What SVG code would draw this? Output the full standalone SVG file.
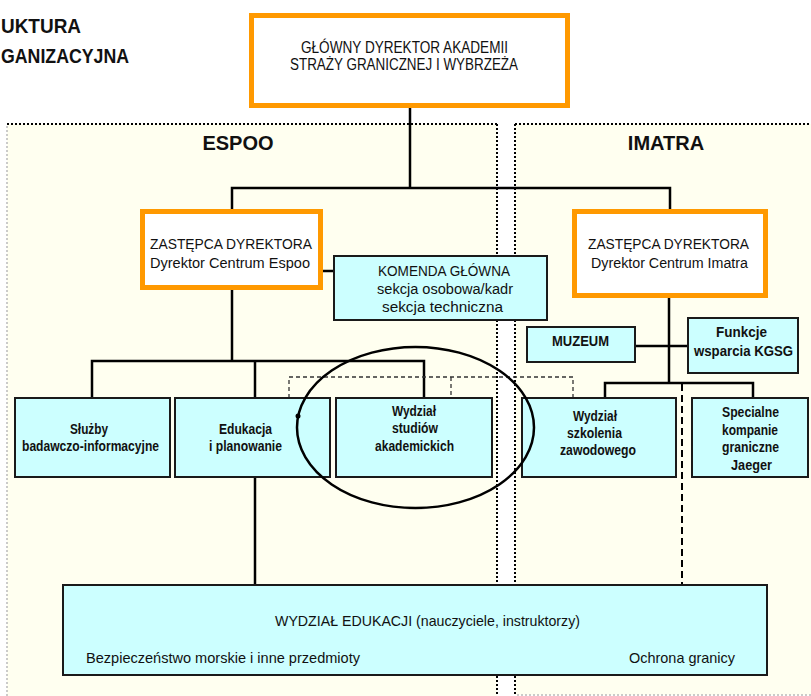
<svg xmlns="http://www.w3.org/2000/svg" width="811" height="696" viewBox="0 0 811 696">
<defs>
<style>
text{font-family:"Liberation Sans",Arial,sans-serif;fill:#111}
.c{text-anchor:middle}
.b{font-weight:bold}
.orange{fill:#fff;stroke:#FF9900;stroke-width:5}
.cyan{fill:#CCFFFF;stroke:#1a1a1a;stroke-width:2}
.ln{stroke:#000;stroke-width:2.5;fill:none}
.dash{stroke:#333;stroke-width:1.3;stroke-dasharray:4 3;fill:none}
.dash2{stroke:#000;stroke-width:2;stroke-dasharray:7 4;fill:none}
.dot{stroke:#000;stroke-width:2;stroke-dasharray:2 2;fill:none}
.dotg{stroke:#bbb;stroke-width:1.5;stroke-dasharray:2 2;fill:none}
</style>
</defs>
<rect x="0" y="0" width="811" height="696" fill="#fff"/>
<g id="panels">
<rect x="7" y="124" width="490" height="580" fill="#FFFFF0"/>
<rect x="515" y="124" width="300" height="571" fill="#FFFFF0"/>
<line class="dotg" x1="7" y1="126" x2="7" y2="696"/>
<line class="dot" x1="7" y1="124" x2="497" y2="124"/>
<line class="dot" x1="497" y1="124" x2="497" y2="696"/>
<line class="dot" x1="515" y1="124" x2="811" y2="124"/>
<line class="dot" x1="515" y1="124" x2="515" y2="696"/>
<line class="dotg" x1="517" y1="695" x2="811" y2="695"/>
<text class="c b" x="238" y="150" font-size="20">ESPOO</text>
<text class="c b" x="666" y="150" font-size="20">IMATRA</text>
</g>
<g id="title">
<text class="b" x="1" y="33" font-size="21" textLength="80" lengthAdjust="spacingAndGlyphs">UKTURA</text>
<text class="b" x="1" y="63" font-size="21" textLength="128" lengthAdjust="spacingAndGlyphs">GANIZACYJNA</text>
</g>
<g id="connectors">
<polyline class="ln" points="410,107 410,188"/>
<polyline class="ln" points="232,209 232,188 670,188 670,209"/>
<line class="ln" x1="232" y1="290" x2="232" y2="361"/>
<line class="ln" x1="323" y1="271" x2="334" y2="271"/>
<polyline class="ln" points="92,398 92,361 424,361 424,398"/>
<line class="ln" x1="255" y1="361" x2="255" y2="398"/>
<line class="ln" x1="255" y1="477" x2="255" y2="585"/>
<line class="ln" x1="669" y1="298" x2="669" y2="383"/>
<line class="ln" x1="635" y1="346" x2="688" y2="346"/>
<polyline class="ln" points="605,398 605,383 753,383 753,398"/>
<polyline class="dash" points="289,398 289,377 573,377 573,398"/>
<line class="dash" x1="451" y1="377" x2="451" y2="398"/>
<line class="dash2" x1="682" y1="384" x2="682" y2="585"/>
</g>
<g id="glowny">
<rect class="orange" x="251.5" y="15.5" width="316" height="90"/>
<text class="c" x="404.5" y="53" font-size="16" textLength="207" lengthAdjust="spacingAndGlyphs">GŁÓWNY DYREKTOR AKADEMII</text>
<text class="c" x="404" y="70" font-size="16" textLength="228" lengthAdjust="spacingAndGlyphs">STRAŻY GRANICZNEJ I WYBRZEŻA</text>
</g>
<g id="zastepca-espoo">
<rect class="orange" x="142.5" y="211.5" width="178" height="76"/>
<text class="c" x="231" y="249" font-size="14" textLength="162" lengthAdjust="spacingAndGlyphs">ZASTĘPCA DYREKTORA</text>
<text class="c" x="230" y="267.5" font-size="14" textLength="160" lengthAdjust="spacingAndGlyphs">Dyrektor Centrum Espoo</text>
</g>
<g id="zastepca-imatra">
<rect class="orange" x="574.5" y="211.5" width="191" height="84"/>
<text class="c" x="668.5" y="249" font-size="14" textLength="161" lengthAdjust="spacingAndGlyphs">ZASTĘPCA DYREKTORA</text>
<text class="c" x="669.5" y="268" font-size="14" textLength="157" lengthAdjust="spacingAndGlyphs">Dyrektor Centrum Imatra</text>
</g>
<g id="komenda">
<rect class="cyan" x="334" y="256" width="213" height="64"/>
<text class="c" x="444" y="276" font-size="14" textLength="132" lengthAdjust="spacingAndGlyphs">KOMENDA GŁÓWNA</text>
<text class="c" x="445" y="294" font-size="14" textLength="136" lengthAdjust="spacingAndGlyphs">sekcja osobowa/kadr</text>
<text class="c" x="442.5" y="312" font-size="14" textLength="121" lengthAdjust="spacingAndGlyphs">sekcja techniczna</text>
</g>
<g id="muzeum">
<rect class="cyan" x="527" y="327" width="108" height="35"/>
<text class="c b" x="580.5" y="346" font-size="14" textLength="57" lengthAdjust="spacingAndGlyphs">MUZEUM</text>
</g>
<g id="funkcje">
<rect class="cyan" x="688" y="318" width="110" height="55"/>
<text class="c b" x="741.5" y="337" font-size="14.5" textLength="51" lengthAdjust="spacingAndGlyphs">Funkcje</text>
<text class="c b" x="743.5" y="356" font-size="14.5" textLength="99" lengthAdjust="spacingAndGlyphs">wsparcia KGSG</text>
</g>
<g id="sluzby">
<rect class="cyan" x="15" y="398" width="155" height="79"/>
<text class="c b" x="89" y="434" font-size="14" textLength="38" lengthAdjust="spacingAndGlyphs">Służby</text>
<text class="c b" x="90.5" y="451" font-size="14" textLength="137" lengthAdjust="spacingAndGlyphs">badawczo-informacyjne</text>
</g>
<g id="edukacja">
<rect class="cyan" x="175" y="398" width="155" height="79"/>
<text class="c b" x="245.5" y="434" font-size="14" textLength="53" lengthAdjust="spacingAndGlyphs">Edukacja</text>
<text class="c b" x="245.5" y="451" font-size="14" textLength="73" lengthAdjust="spacingAndGlyphs">i planowanie</text>
</g>
<g id="wydzial-studiow">
<rect class="cyan" x="336" y="398" width="156" height="79"/>
<text class="c b" x="414" y="416" font-size="14" textLength="44" lengthAdjust="spacingAndGlyphs">Wydział</text>
<text class="c b" x="415" y="433" font-size="14" textLength="46" lengthAdjust="spacingAndGlyphs">studiów</text>
<text class="c b" x="414.5" y="451" font-size="14" textLength="79" lengthAdjust="spacingAndGlyphs">akademickich</text>
</g>
<g id="wydzial-szkolenia">
<rect class="cyan" x="522" y="398" width="154" height="79"/>
<text class="c b" x="595" y="421" font-size="14" textLength="44" lengthAdjust="spacingAndGlyphs">Wydział</text>
<text class="c b" x="594.5" y="438" font-size="14" textLength="55" lengthAdjust="spacingAndGlyphs">szkolenia</text>
<text class="c b" x="598" y="455" font-size="14" textLength="76" lengthAdjust="spacingAndGlyphs">zawodowego</text>
</g>
<g id="specjalne">
<rect class="cyan" x="692" y="398" width="116" height="79"/>
<text class="c b" x="750.5" y="417" font-size="14" textLength="57" lengthAdjust="spacingAndGlyphs">Specialne</text>
<text class="c b" x="750" y="435" font-size="14" textLength="56" lengthAdjust="spacingAndGlyphs">kompanie</text>
<text class="c b" x="750.5" y="452" font-size="14" textLength="57" lengthAdjust="spacingAndGlyphs">graniczne</text>
<text class="c b" x="751.5" y="470" font-size="14" textLength="41" lengthAdjust="spacingAndGlyphs">Jaeger</text>
</g>
<g id="wydzial-edukacji">
<rect class="cyan" x="63" y="585" width="704" height="90"/>
<text class="c" x="427.5" y="626" font-size="14.5" textLength="305" lengthAdjust="spacingAndGlyphs">WYDZIAŁ EDUKACJI (nauczyciele, instruktorzy)</text>
<text x="86" y="663" font-size="14.5" textLength="274" lengthAdjust="spacingAndGlyphs">Bezpieczeństwo morskie i inne przedmioty</text>
<text x="629" y="663" font-size="14.5" textLength="106" lengthAdjust="spacingAndGlyphs">Ochrona granicy</text>
</g>
<g id="highlight">
<ellipse cx="415.5" cy="427.5" rx="118.5" ry="80.5" fill="none" stroke="#000" stroke-width="2.5"/>
<circle cx="298" cy="416" r="2.5" fill="#000"/>
</g>
</svg>
